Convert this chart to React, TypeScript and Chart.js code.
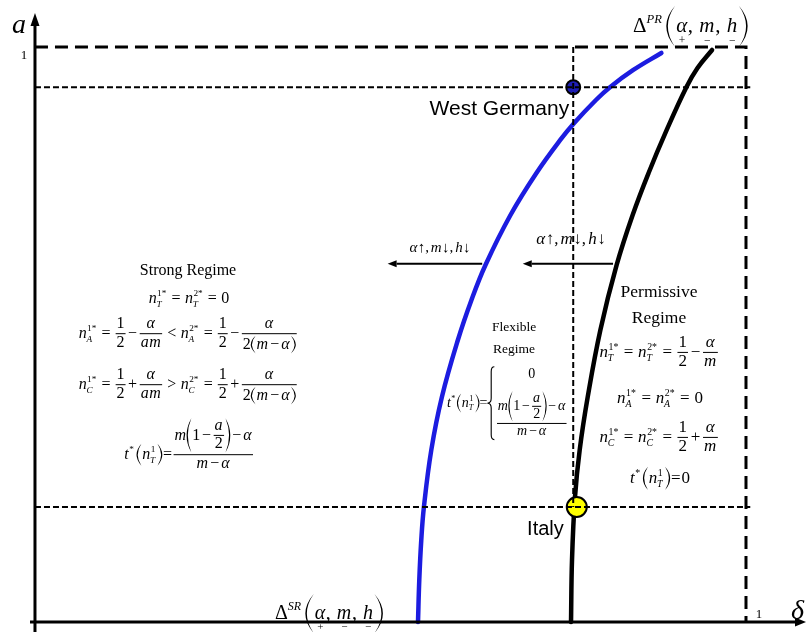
import React, { useEffect, useRef } from 'react';
import { Chart, registerables } from 'chart.js';

Chart.register(...registerables);

// Strong-regime boundary Δ^SR(α, m, h): δ against a
const srDelta = [0.5387, 0.5405, 0.5433, 0.547, 0.5574, 0.5723, 0.5948, 0.6139, 0.6336, 0.6688, 0.7053, 0.7388, 0.7584, 0.789, 0.8091, 0.8415, 0.881];
const srA = [0, 0.073, 0.1426, 0.2, 0.2991, 0.3913, 0.4904, 0.56, 0.6209, 0.7078, 0.7809, 0.8383, 0.8678, 0.9078, 0.9304, 0.96, 0.9896];

// Permissive-regime boundary Δ^PR(α, m, h): δ against a
const prDelta = [0.7539, 0.7553, 0.7595, 0.7661, 0.7774, 0.7952, 0.8181, 0.8406, 0.863, 0.8885, 0.9163, 0.9318, 0.9523];
const prA = [0, 0.1078, 0.2174, 0.2991, 0.3913, 0.5078, 0.6209, 0.7078, 0.7809, 0.8557, 0.9304, 0.9635, 0.9948];

// Countries placed in (δ, a)
const countryNames = ['West Germany', 'Italy'];
const countryDelta = [0.757, 0.762];
const countryA = [0.93, 0.2];

// Shift arrows for α↑, m↓, h↓
const shiftFrom = [0.629, 0.813];
const shiftTo = [0.496, 0.686];
const shiftA = [0.623, 0.623];

// Axis ranges
const unitValue = 1;
const guideEnd = 1.006;
const deltaTip = 1.0844;
const aTip = 1.059;
const X_MIN = -0.0492;
const X_MAX = 1.0858;
const Y_MIN = -0.0174;
const Y_MAX = 1.0817;

type G = CanvasRenderingContext2D;
interface Box {
  w: number;
  a: number;
  d: number;
  draw: (c: G, x: number, y: number) => void;
}

const SERIF = '"Liberation Serif", "Times New Roman", serif';
const SANS = '"Liberation Sans", Arial, sans-serif';

function parenShape(c: G, x: number, top: number, bot: number, pw: number, th: number, left: boolean) {
  const mid = (top + bot) / 2;
  c.beginPath();
  if (left) {
    c.moveTo(x + pw, top);
    c.quadraticCurveTo(x - pw, mid, x + pw, bot);
    c.quadraticCurveTo(x + 2 * th - pw, mid, x + pw, top);
  } else {
    c.moveTo(x, top);
    c.quadraticCurveTo(x + 2 * pw, mid, x, bot);
    c.quadraticCurveTo(x + 2 * pw - 2 * th, mid, x, top);
  }
  c.fill();
}

function mathKit(g: G, size: number) {
  const ax = size * 0.27;
  const txt = (s: string, sz = size, italic = false): Box => {
    const font = `${italic ? 'italic ' : ''}${sz}px ${SERIF}`;
    g.font = font;
    const w = g.measureText(s).width + (italic ? sz * 0.03 : 0);
    return {
      w,
      a: sz * 0.68,
      d: sz * 0.2,
      draw: (c, x, y) => {
        c.font = font;
        c.fillText(s, x, y);
      },
    };
  };
  const I = (s: string, sz = size) => txt(s, sz, true);
  const R = (s: string, sz = size) => txt(s, sz, false);
  const S = (s: string, italic = false) => txt(s, size * 0.58, italic);
  const sp = (w: number): Box => ({ w, a: 0, d: 0, draw: () => {} });
  const row = (...bs: Box[]): Box => ({
    w: bs.reduce((s, b) => s + b.w, 0),
    a: Math.max(0, ...bs.map((b) => b.a)),
    d: Math.max(0, ...bs.map((b) => b.d)),
    draw: (c, x, y) => {
      let cx = x;
      for (const b of bs) {
        b.draw(c, cx, y);
        cx += b.w;
      }
    },
  });
  const rel = (s: string, f = 0.28) => row(sp(size * f), R(s), sp(size * f));
  const bin = (s: string) => row(sp(size * 0.12), R(s), sp(size * 0.12));
  const sc = (base: Box, sup: Box | null, sub: Box | null, up = size * 0.42, dn = size * 0.22): Box => {
    const sw = Math.max(sup ? sup.w : 0, sub ? sub.w : 0);
    return {
      w: base.w + sw + size * 0.04,
      a: Math.max(base.a, sup ? up + sup.a : 0),
      d: Math.max(base.d, sub ? dn + sub.d : 0),
      draw: (c, x, y) => {
        base.draw(c, x, y);
        if (sup) sup.draw(c, x + base.w, y - up);
        if (sub) sub.draw(c, x + base.w - size * 0.04, y + dn);
      },
    };
  };
  const n = (sub: string, sup: string) => sc(I('n'), S(sup), S(sub, true));
  const frac = (num: Box, den: Box): Box => {
    const th = Math.max(1, size * 0.055);
    const gap = size * 0.1;
    const pad = size * 0.1;
    const w = Math.max(num.w, den.w) + 2 * pad;
    return {
      w,
      a: ax + th / 2 + gap + num.d + num.a,
      d: den.a + den.d + gap + th / 2 - ax,
      draw: (c, x, y) => {
        c.fillRect(x + pad * 0.4, y - ax - th / 2, w - pad * 0.8, th);
        num.draw(c, x + (w - num.w) / 2, y - ax - th / 2 - gap - num.d);
        den.draw(c, x + (w - den.w) / 2, y - ax + th / 2 + gap + den.a);
      },
    };
  };
  const paren = (inner: Box, pad = size * 0.08, pw = size * 0.3): Box => {
    const half = Math.max(inner.a - ax, inner.d + ax) + pad;
    const th = size * 0.075;
    const gap = size * 0.05;
    return {
      w: inner.w + 2 * (pw + gap),
      a: ax + half,
      d: half - ax,
      draw: (c, x, y) => {
        const top = y - ax - half;
        const bot = y - ax + half;
        parenShape(c, x, top, bot, pw, th, true);
        inner.draw(c, x + pw + gap, y);
        parenShape(c, x + pw + 2 * gap + inner.w, top, bot, pw, th, false);
      },
    };
  };
  const stack = (items: Box[], gap: number): Box => {
    const H = items.reduce((s, b) => s + b.a + b.d, 0) + gap * (items.length - 1);
    const w = Math.max(...items.map((b) => b.w));
    return {
      w,
      a: ax + H / 2,
      d: H / 2 - ax,
      draw: (c, x, y) => {
        let top = y - ax - H / 2;
        for (const b of items) {
          b.draw(c, x + (w - b.w) / 2, top + b.a);
          top += b.a + b.d + gap;
        }
      },
    };
  };
  const brace = (inner: Box): Box => {
    const bw = size * 0.5;
    const a = inner.a + 2;
    const d = inner.d + 2;
    return {
      w: bw + size * 0.15 + inner.w,
      a,
      d,
      draw: (c, x, y) => {
        const top = y - a;
        const bot = y + d;
        const mid = y - ax;
        const xm = x + bw * 0.55;
        c.save();
        c.lineWidth = Math.max(1, size * 0.08);
        c.beginPath();
        c.moveTo(x + bw, top);
        c.quadraticCurveTo(xm, top, xm, top + bw * 0.7);
        c.lineTo(xm, mid - bw * 0.7);
        c.quadraticCurveTo(xm, mid, x, mid);
        c.quadraticCurveTo(xm, mid, xm, mid + bw * 0.7);
        c.lineTo(xm, bot - bw * 0.7);
        c.quadraticCurveTo(xm, bot, x + bw, bot);
        c.stroke();
        c.restore();
        inner.draw(c, x + bw + size * 0.15, y);
      },
    };
  };
  const under = (base: Box, mark: string): Box => {
    const m = txt(mark, size * 0.55);
    const off = size * 0.55;
    return {
      w: base.w,
      a: base.a,
      d: Math.max(base.d, off + m.d),
      draw: (c, x, y) => {
        base.draw(c, x, y);
        m.draw(c, x + (base.w - m.w) / 2, y + off);
      },
    };
  };
  return { ax, txt, I, R, S, sp, row, rel, bin, sc, n, frac, paren, stack, brace, under };
}

function centered(c: G, b: Box, cx: number, y: number) {
  b.draw(c, cx - b.w / 2, y);
}

function arrow(c: G, x1: number, y1: number, x2: number, y2: number, lw: number, len: number, half: number) {
  const ang = Math.atan2(y2 - y1, x2 - x1);
  const bx = x2 - len * Math.cos(ang);
  const by = y2 - len * Math.sin(ang);
  c.lineWidth = lw;
  c.beginPath();
  c.moveTo(x1, y1);
  c.lineTo(bx, by);
  c.stroke();
  c.beginPath();
  c.moveTo(x2, y2);
  c.lineTo(bx - half * Math.sin(ang), by + half * Math.cos(ang));
  c.lineTo(bx + half * Math.sin(ang), by - half * Math.cos(ang));
  c.closePath();
  c.fill();
}

function boundaryLabel(c: G, size: number, tag: string): Box {
  const k = mathKit(c, size);
  const args = k.row(
    k.under(k.I('α'), '+'),
    k.R(','),
    k.sp(size * 0.3),
    k.under(k.I('m'), '−'),
    k.R(','),
    k.sp(size * 0.3),
    k.under(k.I('h'), '−'),
  );
  return k.row(
    k.sc(k.R('Δ'), k.txt(tag, size * 0.6, true), null, size * 0.45),
    k.sp(size * 0.15),
    k.paren(args, size * 0.05, size * 0.42),
  );
}

function shiftLabel(c: G, size: number): Box {
  const k = mathKit(c, size);
  return k.row(
    k.I('α'), k.R('↑'), k.R(','), k.sp(size * 0.12),
    k.I('m'), k.R('↓'), k.R(','), k.sp(size * 0.12),
    k.I('h'), k.R('↓'),
  );
}

const diagramPlugin = {
  id: 'regimeDiagram',
  beforeDraw(chart: any) {
    const c: G = chart.ctx;
    c.save();
    c.fillStyle = '#ffffff';
    c.fillRect(0, 0, chart.width, chart.height);
    c.restore();
  },
  afterDatasetsDraw(chart: any) {
    const c: G = chart.ctx;
    const X = (v: number) => chart.scales.x.getPixelForValue(v);
    const Y = (v: number) => chart.scales.y.getPixelForValue(v);
    c.save();
    c.fillStyle = '#000';
    c.strokeStyle = '#000';
    c.textBaseline = 'alphabetic';
    c.textAlign = 'left';

    // axes
    arrow(c, X(0), Y(Y_MIN), X(0), Y(aTip), 3, 13, 4.5);
    arrow(c, X(-0.007), Y(0), X(deltaTip), Y(0), 3, 11, 4.5);

    // axis labels
    c.font = `italic 28px ${SERIF}`;
    c.fillText('a', 12, 33);
    c.fillText('δ', 791, 619);
    c.font = `13px ${SERIF}`;
    c.textAlign = 'center';
    c.fillText(String(unitValue), X(0) - 11, Y(unitValue) + 12);
    c.fillText(String(unitValue), X(unitValue) + 13, Y(0) - 4);
    c.textAlign = 'left';

    // shift arrows and their labels
    for (let i = 0; i < shiftFrom.length; i++) {
      arrow(c, X(shiftFrom[i]), Y(shiftA[i]), X(shiftTo[i]), Y(shiftA[i]), 2, 9, 3.5);
    }
    centered(c, shiftLabel(c, 15), 440, Y(shiftA[0]) - 12);
    centered(c, shiftLabel(c, 17), 571, Y(shiftA[1]) - 20);

    // country labels
    c.font = `21px ${SANS}`;
    c.textAlign = 'right';
    c.fillText(countryNames[0], X(countryDelta[0]) - 4, Y(countryA[0]) + 28);
    c.font = `20px ${SANS}`;
    c.fillText(countryNames[1], X(countryDelta[1]) - 13, Y(countryA[1]) + 28);
    c.textAlign = 'left';

    // boundary labels
    boundaryLabel(c, 21, 'PR').draw(c, 633, 32);
    boundaryLabel(c, 20, 'SR').draw(c, 275, 619);

    // Strong regime
    {
      const k = mathKit(c, 16);
      c.font = `16px ${SERIF}`;
      c.textAlign = 'center';
      c.fillText('Strong Regime', 188, 275);
      c.textAlign = 'left';
      const half = () => k.frac(k.R('1'), k.R('2'));
      const mAlpha = () => k.row(k.I('m'), k.bin('−'), k.I('α'));
      const l2 = k.row(k.n('T', '1*'), k.rel('='), k.n('T', '2*'), k.rel('='), k.R('0'));
      const lineFor = (sub: string, sign: string, cmp: string) =>
        k.row(
          k.n(sub, '1*'), k.rel('='), half(), k.bin(sign),
          k.frac(k.I('α'), k.row(k.I('a'), k.I('m'))),
          k.rel(cmp), k.n(sub, '2*'), k.rel('='), half(), k.bin(sign),
          k.frac(k.I('α'), k.row(k.R('2'), k.paren(mAlpha()))),
        );
      const l5 = k.row(
        k.sc(k.I('t'), k.S('*'), null),
        k.sp(2),
        k.paren(k.sc(k.I('n'), k.S('1'), k.S('T', true))),
        k.rel('=', 0.05),
        k.frac(
          k.row(k.I('m'), k.paren(k.row(k.R('1'), k.bin('−'), k.frac(k.I('a'), k.R('2'))), 1), k.bin('−'), k.I('α')),
          mAlpha(),
        ),
      );
      centered(c, l2, 189, 303);
      centered(c, lineFor('A', '−', '<'), 188, 338);
      centered(c, lineFor('C', '+', '>'), 188, 389);
      centered(c, l5, 189, 459);
    }

    // Flexible regime
    {
      const k = mathKit(c, 14);
      c.font = `13.5px ${SERIF}`;
      c.textAlign = 'center';
      c.fillText('Flexible', 514, 331);
      c.fillText('Regime', 514, 353);
      c.textAlign = 'left';
      const num = k.row(k.I('m'), k.paren(k.row(k.R('1'), k.bin('−'), k.frac(k.I('a'), k.R('2'))), 1), k.bin('−'), k.I('α'));
      const piece = k.row(
        k.sc(k.I('t'), k.S('*'), null),
        k.sp(1),
        k.paren(k.sc(k.I('n'), k.S('1'), k.S('T', true))),
        k.R('='),
        k.brace(k.stack([k.R('0'), k.frac(num, k.row(k.I('m'), k.bin('−'), k.I('α')))], 10)),
      );
      piece.draw(c, 447, 407);
    }

    // Permissive regime
    {
      const k = mathKit(c, 17);
      c.font = `17.5px ${SERIF}`;
      c.textAlign = 'center';
      c.fillText('Permissive', 659, 297);
      c.fillText('Regime', 659, 323);
      c.textAlign = 'left';
      const half = () => k.frac(k.R('1'), k.R('2'));
      const r1 = k.row(k.n('T', '1*'), k.rel('='), k.n('T', '2*'), k.rel('='), half(), k.bin('−'), k.frac(k.I('α'), k.I('m')));
      const r2 = k.row(k.n('A', '1*'), k.rel('='), k.n('A', '2*'), k.rel('='), k.R('0'));
      const r3 = k.row(k.n('C', '1*'), k.rel('='), k.n('C', '2*'), k.rel('='), half(), k.bin('+'), k.frac(k.I('α'), k.I('m')));
      const r4 = k.row(k.sc(k.I('t'), k.S('*'), null), k.sp(2), k.paren(k.sc(k.I('n'), k.S('1'), k.S('T', true))), k.rel('=', 0.05), k.R('0'));
      centered(c, r1, 659, 357);
      centered(c, r2, 660, 403);
      centered(c, r3, 659, 442);
      centered(c, r4, 660, 483);
    }
    c.restore();
  },
};

const pts = (xs: number[], ys: number[]) => xs.map((x, i) => ({ x, y: ys[i] }));

export default function App() {
  const ref = useRef<HTMLCanvasElement>(null);
  useEffect(() => {
    document.body.style.margin = '0';
    const guide = (data: { x: number; y: number }[], width: number, dash: number[]) => ({
      data,
      showLine: true,
      borderColor: '#000',
      borderWidth: width,
      borderDash: dash,
      pointRadius: 0,
      order: 0,
    });
    const boundary = (label: string, xs: number[], ys: number[], color: string) => ({
      label,
      data: pts(xs, ys),
      showLine: true,
      borderColor: color,
      borderWidth: 4.5,
      borderCapStyle: 'round',
      tension: 0.4,
      pointRadius: 0,
      order: 2,
    });
    const chart = new Chart(ref.current!, {
      type: 'scatter',
      data: {
        datasets: [
          guide([{ x: 0, y: 1 }, { x: 1, y: 1 }, { x: 1, y: 0 }], 3, [13, 7]) as any,
          guide([{ x: 0, y: countryA[0] }, { x: guideEnd, y: countryA[0] }], 2, [6, 3]),
          guide([{ x: 0, y: countryA[1] }, { x: guideEnd, y: countryA[1] }], 2, [6, 3]),
          guide([{ x: countryDelta[0], y: 1 }, { x: countryDelta[0], y: countryA[1] }], 2, [6, 3]),
          {
            label: countryNames[0],
            data: [{ x: countryDelta[0], y: countryA[0] }],
            pointRadius: 7,
            pointBackgroundColor: '#1e1eb4',
            pointBorderColor: '#000',
            pointBorderWidth: 2,
            order: 1,
          },
          {
            label: countryNames[1],
            data: [{ x: countryDelta[1], y: countryA[1] }],
            pointRadius: 10,
            pointBackgroundColor: '#ffff00',
            pointBorderColor: '#000',
            pointBorderWidth: 2,
            order: 1,
          },
          boundary('ΔSR', srDelta, srA, '#1c1ce0'),
          boundary('ΔPR', prDelta, prA, '#000'),
        ],
      },
      options: {
        animation: false,
        responsive: false,
        devicePixelRatio: 1,
        events: [],
        layout: { padding: 0, autoPadding: false },
        plugins: { legend: { display: false }, tooltip: { enabled: false } },
        scales: {
          x: { type: 'linear', min: X_MIN, max: X_MAX, display: false },
          y: { type: 'linear', min: Y_MIN, max: Y_MAX, display: false },
        },
      },
      plugins: [diagramPlugin as any],
    });
    return () => chart.destroy();
  }, []);
  return (
    <div style={{ width: 807, height: 632, background: '#fff' }}>
      <canvas ref={ref} width={807} height={632} style={{ display: 'block' }} />
    </div>
  );
}
